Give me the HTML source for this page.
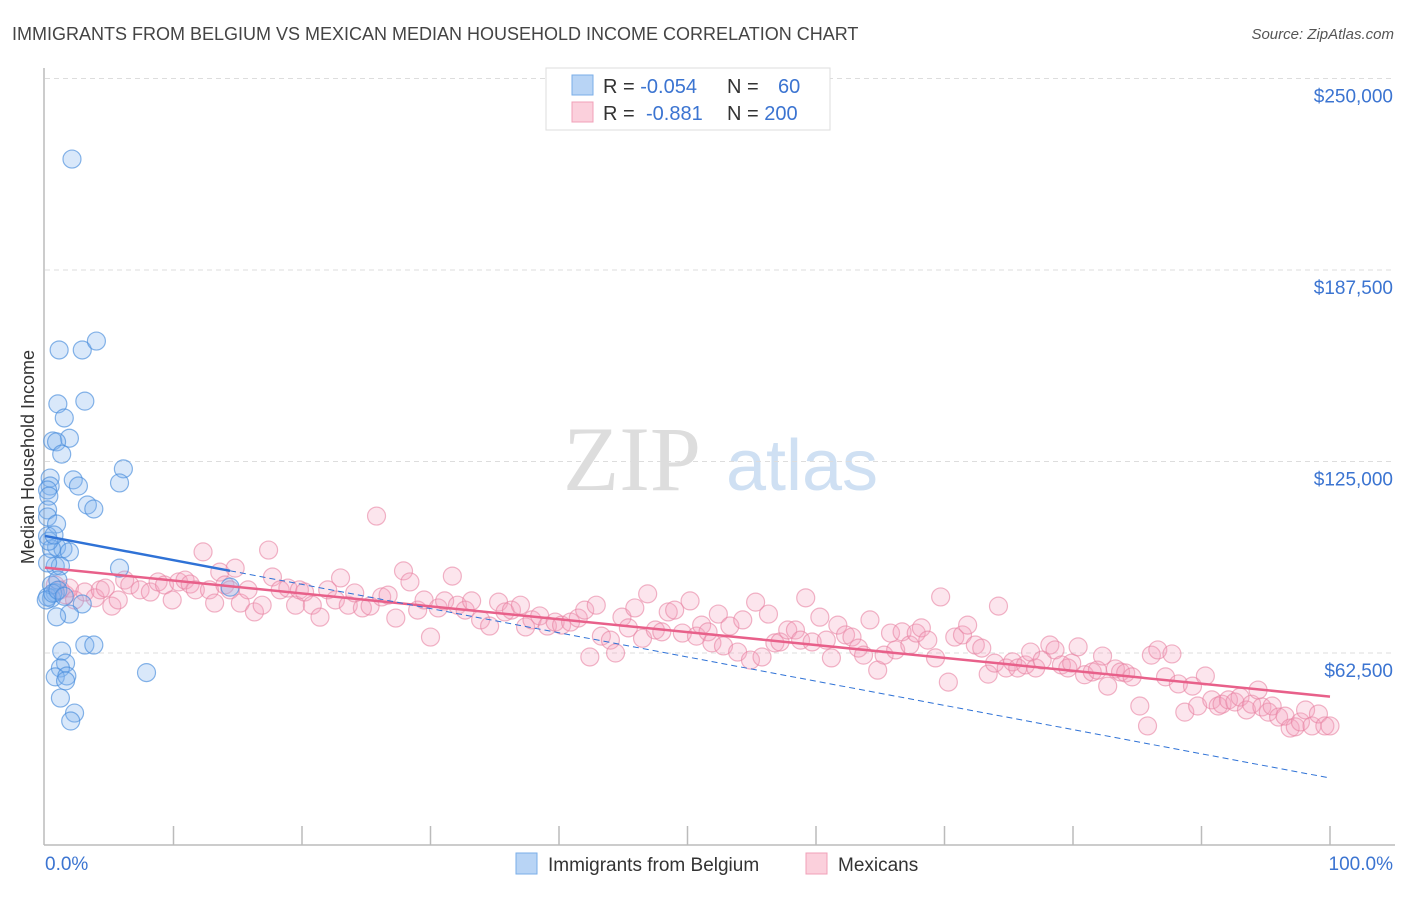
<!DOCTYPE html>
<html><head><meta charset="utf-8"><style>
body{margin:0;background:#fff;font-family:"Liberation Sans",sans-serif;}
svg text{font-family:"Liberation Sans",sans-serif;}
</style></head><body>
<svg id="chart" width="1406" height="892" viewBox="0 0 1406 892">
<text x="12" y="40" font-size="18" fill="#444">IMMIGRANTS FROM BELGIUM VS MEXICAN MEDIAN HOUSEHOLD INCOME CORRELATION CHART</text>
<text x="1394" y="39" font-size="15" fill="#555" text-anchor="end" font-style="italic">Source: ZipAtlas.com</text>
<text x="34" y="457" font-size="18" fill="#333" text-anchor="middle" transform="rotate(-90 34 457)">Median Household Income</text>
<g><text x="632" y="490" font-size="92" fill="#ddd" text-anchor="middle" style="font-family:'Liberation Serif',serif">ZIP</text><text x="802" y="490" font-size="72" fill="#cfe0f3" text-anchor="middle">atlas</text></g>
<g id="grid"></g><g id="axes"></g><g id="marks"></g>
<g>
<rect x="546" y="68" width="284" height="62" fill="#fff" stroke="#ddd"/>
<rect x="572" y="75" width="21" height="20" fill="#b8d4f5" stroke="#7aaee8"/>
<rect x="572" y="102" width="21" height="20" fill="#fbd0dc" stroke="#f0a0b8"/>
<text x="603" y="93" font-size="20" fill="#333">R = <tspan fill="#3b74d1">-0.054</tspan></text>
<text x="727" y="93" font-size="20" fill="#333">N = <tspan fill="#3b74d1" x="778">60</tspan></text>
<text x="603" y="120" font-size="20" fill="#333">R = <tspan fill="#3b74d1" x="646">-0.881</tspan></text>
<text x="727" y="120" font-size="20" fill="#333">N = <tspan fill="#3b74d1">200</tspan></text>
</g>
<g>
<rect x="516" y="853" width="21" height="21" fill="#b8d4f5" stroke="#7aaee8"/>
<text x="548" y="871" font-size="19" fill="#333">Immigrants from Belgium</text>
<rect x="806" y="853" width="21" height="21" fill="#fbd0dc" stroke="#f0a0b8"/>
<text x="838" y="871" font-size="19" fill="#333">Mexicans</text>
</g>
</svg>
<script>
const yTicks=[62500,125000,187500,250000];
const yTickLabels=["$62,500","$125,000","$187,500","$250,000"];
const xTickCount=10;
const blueTrend=[100.7,21.7];
const blueX=[2.1,1.1,2.9,4.0,3.1,1.0,1.5,1.9,0.6,0.9,1.3,6.1,5.8,2.2,2.6,0.4,0.4,0.2,0.3,3.3,3.8,0.2,0.2,0.9,0.2,0.9,1.4,1.9,0.5,0.8,1.2,5.8,14.4,0.8,0.5,2.9,1.9,0.9,3.1,3.8,1.3,1.6,1.2,7.9,0.8,1.7,1.6,1.2,2.3,2.0,0.2,0.5,0.2,0.1,1.0,0.6,1.0,0.3,1.5,0.7];
const blueY=[223.7,161.4,161.4,164.3,144.7,143.8,139.2,132.6,131.7,131.4,127.4,122.6,118.0,119.0,117.0,119.6,117.0,115.7,113.7,110.8,109.5,109.2,106.9,104.6,100.7,97.1,96.5,95.5,96.5,90.9,90.9,90.2,84.0,82.2,80.4,78.5,75.2,74.3,65.1,65.1,63.1,59.2,57.6,56.1,54.7,55.0,53.4,47.8,42.9,40.3,80.8,84.7,91.9,79.8,86.3,82.0,83.0,99.0,81.0,101.0];
const pinkX=[0.8,1.2,1.6,1.9,2.3,3.1,3.9,4.3,4.7,5.2,5.7,6.2,6.6,7.4,8.2,8.8,9.3,9.9,10.4,10.9,11.3,11.7,12.3,12.8,13.2,13.6,14.0,14.4,14.8,15.2,15.8,16.3,16.9,17.4,17.7,18.3,18.9,19.5,19.8,20.2,20.8,21.4,22.0,22.6,23.0,23.6,24.1,24.7,25.3,25.8,26.2,26.7,27.3,27.9,28.4,29.0,29.5,30.0,30.6,31.1,31.7,32.1,32.7,33.2,33.9,34.6,35.3,35.8,36.3,37.0,37.4,37.9,38.5,39.1,39.7,40.2,40.9,41.5,42.0,42.4,42.9,43.3,44.0,44.4,44.9,45.4,45.9,46.5,46.9,47.5,48.0,48.5,49.0,49.6,50.2,50.7,51.1,51.6,51.9,52.4,52.8,53.3,53.9,54.3,54.9,55.3,55.8,56.3,56.8,57.2,57.8,58.4,58.8,59.2,59.7,60.3,60.8,61.2,61.7,62.3,62.8,63.3,63.7,64.2,64.8,65.3,65.8,66.2,66.7,67.3,67.8,68.2,68.7,69.3,69.7,70.3,70.8,71.4,71.8,72.4,72.9,73.4,73.9,74.2,74.8,75.3,75.7,76.3,76.7,77.1,77.6,78.2,78.6,79.1,79.6,79.9,80.4,80.9,81.5,81.9,82.3,82.7,83.3,83.7,84.1,84.6,85.2,85.8,86.1,86.6,87.2,87.7,88.2,88.7,89.3,89.7,90.3,90.8,91.3,91.6,92.1,92.6,93.0,93.5,93.9,94.4,94.7,95.2,95.5,96.0,96.5,96.9,97.3,97.7,98.1,98.6,99.1,99.6,100.0];
const pinkY=[84.7,83.1,81.5,83.7,79.8,82.4,80.5,83.1,83.7,77.8,79.8,86.3,84.7,83.1,82.4,85.7,84.7,79.8,85.7,86.3,85.0,83.1,95.5,83.1,78.8,88.9,84.7,83.1,90.2,78.8,83.1,75.9,78.1,96.1,87.3,83.1,83.7,78.1,83.1,82.4,78.1,74.2,83.1,79.8,87.0,78.1,82.1,77.2,77.8,107.2,80.8,81.4,73.9,89.3,85.7,76.5,79.8,67.7,77.2,79.5,87.6,78.1,76.5,79.5,73.3,71.3,79.1,75.9,76.5,78.1,71.0,73.3,74.6,71.3,72.6,71.6,72.6,73.9,76.5,61.2,78.1,68.0,66.7,62.5,74.2,70.7,77.2,67.3,81.8,70.0,69.4,75.9,76.5,69.0,79.5,68.0,71.6,69.4,65.8,75.2,64.8,71.3,62.8,73.3,60.2,79.1,61.2,75.2,65.8,66.1,70.0,70.0,66.7,80.5,66.1,74.2,66.7,60.9,71.6,68.4,67.7,64.1,61.8,73.3,56.9,61.8,69.0,63.5,69.4,65.1,69.0,70.7,66.7,60.9,80.8,53.0,67.7,68.4,71.6,65.1,64.1,55.6,59.2,77.8,57.6,59.6,57.6,58.6,62.8,57.6,60.2,65.1,63.5,58.6,57.6,59.2,64.5,55.4,56.3,56.9,61.5,51.7,57.3,56.3,56.0,54.7,45.2,38.7,61.8,63.5,54.7,62.2,52.4,43.2,51.7,45.2,55.0,47.2,45.2,45.8,47.2,46.5,48.1,43.9,45.8,50.4,44.9,43.2,45.2,41.6,41.9,38.0,38.4,40.0,43.9,38.7,42.6,38.7,38.7];
const NS='http://www.w3.org/2000/svg';
const X0=45,X1=1330,YB=844.5,PX_PER_K=3.064;
function sx(p){return X0+(X1-X0)*p/100;}
function sy(k){return YB-k*PX_PER_K;}
function mk(tag,attrs,parent){const e=document.createElementNS(NS,tag);for(const k in attrs)e.setAttribute(k,attrs[k]);parent.appendChild(e);return e;}
const grid=document.getElementById('grid'),axes=document.getElementById('axes'),marks=document.getElementById('marks');
yTicks.forEach((t,i)=>{
  const y=sy(t/1000);
  const l=mk('line',{x1:45,x2:1395,y1:y,y2:y,stroke:'#ddd','stroke-dasharray':'5,4'},grid);
  
  
  const tx=mk('text',{x:1393,y:y+24,'font-size':19,fill:'#3b74d1','text-anchor':'end'},axes);
  tx.textContent=yTickLabels[i];
  
  
});
const ax=mk('line',{x1:44,x2:44,y1:68,y2:845,stroke:'#bbb','stroke-width':1.5},axes);


const bx=mk('line',{x1:44,x2:1395,y1:845,y2:845,stroke:'#bbb','stroke-width':1.5},axes);


for(let i=1;i<=xTickCount;i++){
  const x=sx(i*100/xTickCount);
  const t=mk('line',{x1:x,x2:x,y1:826,y2:845,stroke:'#bbb','stroke-width':1.5},axes);
  
  
}
const xl=mk('text',{x:45,y:870,'font-size':19,fill:'#3b74d1'},axes);xl.textContent='0.0%';


const xr=mk('text',{x:1393,y:870,'font-size':19,fill:'#3b74d1','text-anchor':'end'},axes);xr.textContent='100.0%';


function draw(xs,ys,fill,stroke,name){
  xs.forEach((p,i)=>{
    const c=mk('circle',{cx:sx(p),cy:sy(ys[i]),r:9,fill:fill,stroke:stroke,'stroke-width':1.2},marks);
    
    
  });
}
draw(pinkX,pinkY,'rgba(245,160,190,0.28)','rgba(232,130,162,0.6)','mexicans-point');
draw(blueX,blueY,'rgba(130,180,240,0.3)','rgba(70,140,220,0.65)','belgium-point');
function fit(xs,ys){const n=xs.length;let mx=0,my=0;xs.forEach((x,i)=>{mx+=x;my+=ys[i];});mx/=n;my/=n;let sxy=0,sxx=0;xs.forEach((x,i)=>{sxy+=(x-mx)*(ys[i]-my);sxx+=(x-mx)*(x-mx);});const b=sxy/sxx;return [my-b*mx,b];}
const pf=fit(pinkX,pinkY);
const pl=mk('line',{x1:sx(0),y1:sy(pf[0]),x2:sx(100),y2:sy(pf[0]+pf[1]*100),stroke:'#e8608a','stroke-width':2.5},marks);


const bmax=Math.max(...blueX);
function bt(p){return blueTrend[0]+(blueTrend[1]-blueTrend[0])*p/100;}
const bl=mk('line',{x1:sx(0),y1:sy(bt(0)),x2:sx(bmax),y2:sy(bt(bmax)),stroke:'#2f72d6','stroke-width':2.5},marks);


const bd=mk('line',{x1:sx(bmax),y1:sy(bt(bmax)),x2:sx(100),y2:sy(bt(100)),stroke:'#2f72d6','stroke-width':1,'stroke-dasharray':'6,4'},marks);


</script>
</body></html>
